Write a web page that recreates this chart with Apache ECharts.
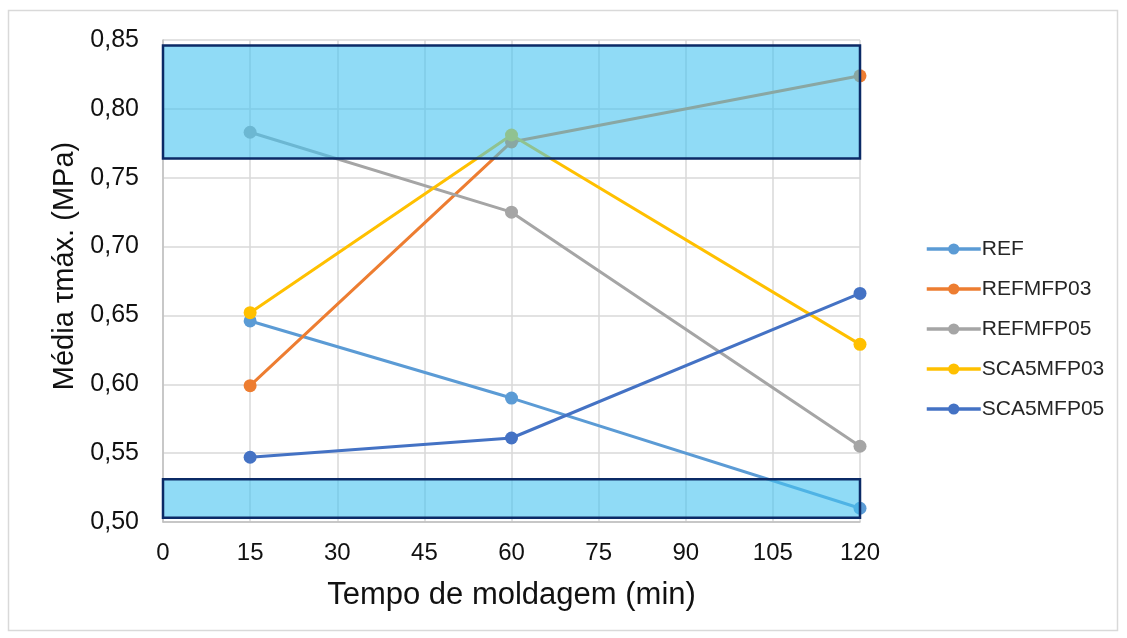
<!DOCTYPE html>
<html>
<head>
<meta charset="utf-8">
<script src="https://cdn.jsdelivr.net/npm/echarts@6/dist/echarts.min.js"></script>
<style>
  html, body { margin: 0; padding: 0; background: #ffffff; }
  #chart { width: 1127px; height: 638px; }
</style>
</head>
<body>
<div id="chart"></div>
<script>
// Moulding time (min) and mean maximum shear stress (MPa) per mixture
const times = [15, 60, 120];
const REF = [0.646, 0.590, 0.510];
const REFMFP03 = [0.599, 0.776, 0.824];
const REFMFP05 = [0.783, 0.725, 0.555];
const SCA5MFP03 = [0.652, 0.781, 0.629];
const SCA5MFP05 = [0.547, 0.561, 0.666];

const seriesNames = ['REF', 'REFMFP03', 'REFMFP05', 'SCA5MFP03', 'SCA5MFP05'];
const seriesValues = [REF, REFMFP03, REFMFP05, SCA5MFP03, SCA5MFP05];
const seriesColors = ['#5B9BD5', '#ED7D31', '#A5A5A5', '#FFC000', '#4472C4'];

// Highlighted stress bands [low, high]
const upperBand = [0.764, 0.846];
const lowerBand = [0.503, 0.531];

const xTicks = { min: 0, max: 120, interval: 15 };
const yTicks = { min: 0.50, max: 0.85, interval: 0.05 };

const font = 'Liberation Sans, Arial, sans-serif';

const chart = echarts.init(document.getElementById('chart'));

const lineSeries = seriesNames.map((name, i) => ({
  name: name,
  type: 'line',
  data: times.map((t, j) => [t, seriesValues[i][j]]),
  symbol: 'circle',
  symbolSize: 13,
  color: seriesColors[i],
  lineStyle: { width: 3, color: seriesColors[i] },
  itemStyle: { color: seriesColors[i] },
  clip: false,
  z: 2 + i,
  animation: false
}));

// Translucent bands laid over the lines
const bandSeries = {
  name: 'bands',
  type: 'line',
  data: [],
  clip: false,
  z: 20,
  silent: true,
  animation: false,
  markArea: {
    silent: true,
    z: 20,
    itemStyle: {
      color: 'rgba(70, 195, 240, 0.6)',
      borderColor: '#0B2A66',
      borderWidth: 2.5
    },
    data: [
      [{ xAxis: xTicks.min, yAxis: upperBand[1] }, { xAxis: xTicks.max, yAxis: upperBand[0] }],
      [{ xAxis: xTicks.min, yAxis: lowerBand[1] }, { xAxis: xTicks.max, yAxis: lowerBand[0] }]
    ]
  }
};

chart.setOption({
  backgroundColor: '#ffffff',
  animation: false,
  graphic: [{
    type: 'rect',
    shape: { x: 8.5, y: 10.5, width: 1109, height: 620 },
    style: { fill: 'none', stroke: '#D9D9D9', lineWidth: 1.5 },
    silent: true,
    z: -1
  }],
  grid: { left: 163, right: 267, top: 40, bottom: 116, containLabel: false },
  legend: {
    data: seriesNames,
    orient: 'vertical',
    left: 920,
    top: 232,
    itemWidth: 54,
    itemHeight: 14,
    itemGap: 16,
    lineStyle: { width: 3.5 },
    textStyle: { fontFamily: font, fontSize: 21, color: '#262626', padding: [0, 0, 0, -4], lineHeight: 24 }
  },
  xAxis: {
    type: 'value',
    min: xTicks.min,
    max: xTicks.max,
    interval: xTicks.interval,
    name: 'Tempo de moldagem (min)',
    nameLocation: 'middle',
    nameGap: 58,
    nameTextStyle: { fontFamily: font, fontSize: 31, color: '#111111' },
    axisLine: { show: true, lineStyle: { color: '#BFBFBF', width: 1.5 } },
    axisTick: { show: false },
    axisLabel: { fontFamily: font, fontSize: 24, color: '#111111', margin: 19 },
    splitLine: { show: true, lineStyle: { color: '#D9D9D9', width: 1.5 } }
  },
  yAxis: {
    type: 'value',
    min: yTicks.min,
    max: yTicks.max,
    interval: yTicks.interval,
    name: 'Média τmáx. (MPa)',
    nameLocation: 'middle',
    nameGap: 84,
    nameTextStyle: { fontFamily: font, fontSize: 29, color: '#111111', padding: [0, 0, 0, 30] },
    axisLine: { show: true, lineStyle: { color: '#BFBFBF', width: 1.5 } },
    axisTick: { show: false },
    axisLabel: {
      fontFamily: font, fontSize: 25, color: '#111111', margin: 24,
      formatter: v => v.toFixed(2).replace('.', ',')
    },
    splitLine: { show: true, lineStyle: { color: '#D9D9D9', width: 1.5 } }
  },
  series: lineSeries.concat([bandSeries])
});
</script>
</body>
</html>
